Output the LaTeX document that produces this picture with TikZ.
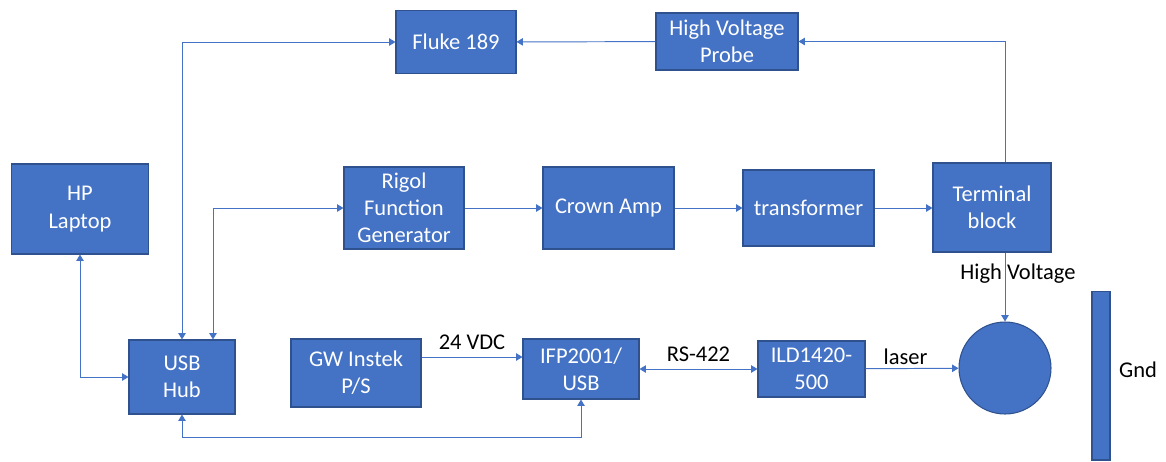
\documentclass[tikz,border=0pt]{standalone}
\usepackage{fontspec}
\setmainfont{Carlito}
\usepackage{xcolor}
\usetikzlibrary{arrows.meta,positioning,calc}

\definecolor{boxblue}{HTML}{4472C4}
\definecolor{boxedge}{HTML}{2F528F}

\tikzset{
  blk/.style={draw=boxedge, line width=0.6pt, fill=boxblue, text=white, align=center,
    inner sep=1pt, font=\fontsize{12.8}{15.5}\selectfont},
  lnk/.style={draw=boxblue, line width=0.55pt, >={Triangle[length=3.6pt,width=4.2pt]}},
  lbl/.style={text=black, font=\fontsize{12.8}{15.5}\selectfont, inner sep=1pt}
}

\begin{document}
\begin{tikzpicture}[x=0.02cm, y=-0.02cm]
  % Bounding box
  \useasboundingbox (0,0) rectangle (1166,461);

  % Top row
  \node[blk, minimum width=2.40cm, minimum height=1.26cm] (fluke) at (456,42) {Fluke 189};
  \node[blk, minimum width=2.84cm, minimum height=1.14cm] (probe) at (727,41.5) {High Voltage\\Probe};

  % Middle row
  \node[blk, minimum width=2.74cm, minimum height=1.80cm] (laptop) at (80,209) {HP\\Laptop};
  \node[blk, minimum width=2.40cm, minimum height=1.64cm] (rigol) at (404,208) {Rigol\\Function\\Generator};
  \node[blk, minimum width=2.62cm, minimum height=1.64cm] (amp) at (608.5,208) {Crown Amp};
  \node[blk, minimum width=2.62cm, minimum height=1.52cm] (xfmr) at (808.5,208) {transformer};
  \node[blk, minimum width=2.36cm, minimum height=1.78cm] (term) at (992,207.5) {Terminal\\block};

  % Bottom row
  \node[blk, minimum width=2.12cm, minimum height=1.48cm] (usb) at (182,377) {USB\\Hub};
  \node[blk, minimum width=2.60cm, minimum height=1.36cm] (psu) at (356,373) {GW Instek\\P/S};
  \node[blk, minimum width=2.32cm, minimum height=1.20cm] (ifp) at (581,369) {IFP2001/\\USB};
  \node[blk, minimum width=2.14cm, minimum height=1.12cm] (ild) at (811.5,369) {ILD1420-\\500};
  \node[blk, circle, minimum size=1.84cm] (dut) at (1005,368) {};
  \node[blk, minimum width=0.36cm, minimum height=3.38cm] (gnd) at (1101,375.5) {};
  \node[lbl] (gndtxt) at (1138,370) {Gnd};

  % Signal chain
  \draw[lnk, ->] (rigol) -- (amp);
  \draw[lnk, ->] (amp) -- (xfmr);
  \draw[lnk, ->] (xfmr.east) -- (xfmr.east -| term.west);
  \draw[lnk, ->] (term.south -| dut.north) -- (dut.north);
  \node[lbl] (hvtxt) at (1018,274) {High Voltage};

  % Voltage measurement
  \draw[lnk, ->] (term.north -| dut.north) |- (probe.east);
  \draw[lnk, ->] (probe) -- (fluke);

  % USB links
  \draw[lnk, <->] (laptop.south) |- (usb.west);
  \draw[lnk, <->] (usb.north) |- (fluke.west);
  \draw[lnk, <->] ([xshift=0.62cm]usb.north) |- (rigol.west);
  \draw[lnk, <->] (usb.south) -- ++(0,23) -| (ifp.south);

  % Displacement sensor
  \draw[lnk, ->] ([yshift=0.32cm]psu.east) coordinate (vdc) -- (vdc -| ifp.west)
    node[lbl, midway, above=3pt] {24 VDC};
  \draw[lnk, <->] (ifp) -- (ild) node[lbl, midway, above=3pt] {RS-422};
  \draw[lnk, ->] (ild) -- (dut) node[lbl, pos=0.43, above=1pt] {laser};
\end{tikzpicture}
\end{document}
